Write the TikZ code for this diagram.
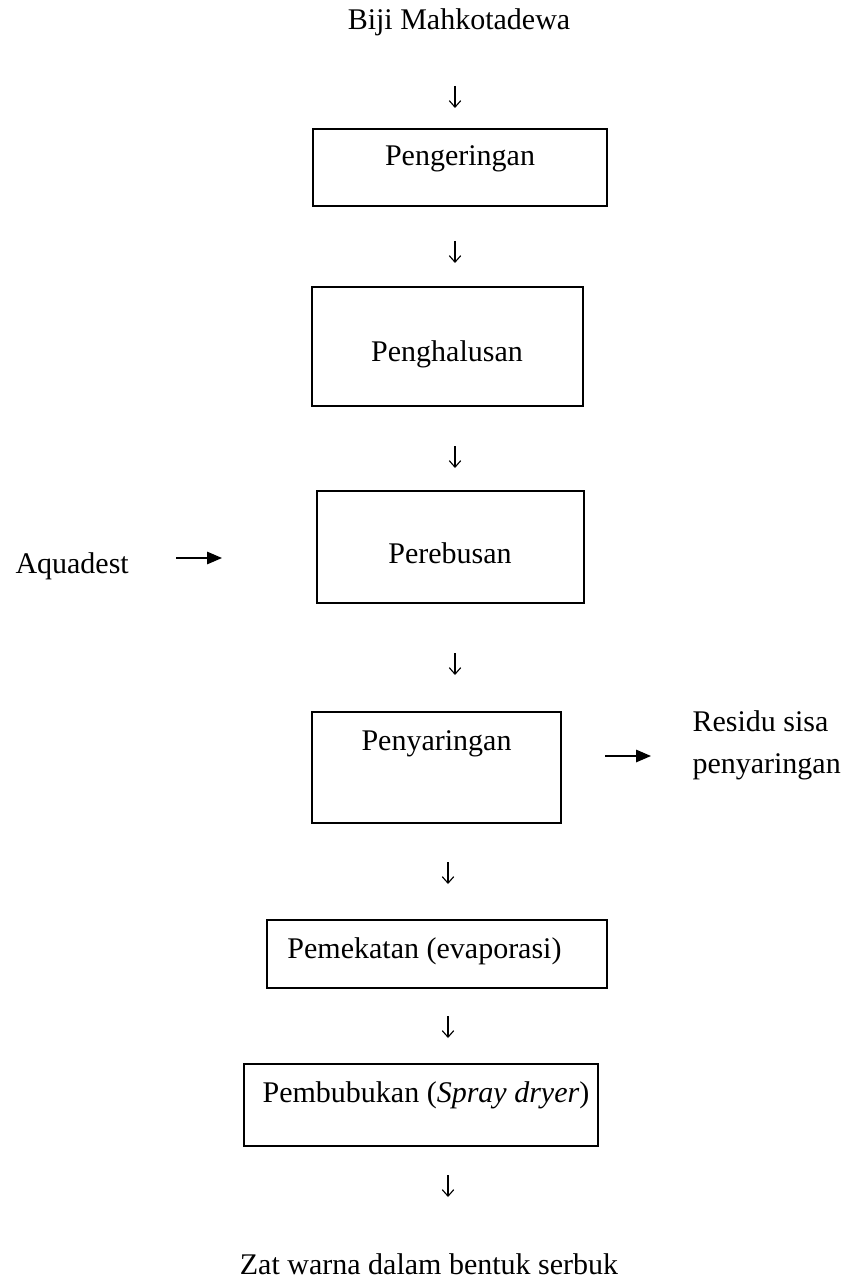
\documentclass[tikz,border=0pt]{standalone}
\usepackage{fontspec}
\setmainfont{Liberation Serif}
\usetikzlibrary{arrows.meta}
\tikzset{
  stepbox/.style  = {draw, line width=0.6pt, inner sep=0pt},
  steptext/.style = {font=\fontsize{12pt}{14pt}\selectfont, inner sep=0pt, anchor=base},
  sidetext/.style = {steptext, anchor=base west},
  downarr/.style  = {-{Straight Barb[length=2.6pt,width=4.6pt]}, line width=0.45pt},
  sidearr/.style  = {-{Triangle[length=6pt,width=5pt]}, line width=0.6pt}
}

\begin{document}
\begin{tikzpicture}[x=0.4pt, y=-0.4pt]
  \useasboundingbox (0,0) rectangle (846,1278);
  % Start and end material
  \node[steptext] (t0) at (459,30)   {Biji Mahkotadewa};
  \node[steptext] (t7) at (429,1274) {Zat warna dalam bentuk serbuk};
  % Process boxes
  \node[stepbox, minimum width=117.6pt, minimum height=30.8pt] (b1) at (460,167.5) {};
  \node[steptext] (t1) at (460,166) {Pengeringan};
  \node[stepbox, minimum width=108.4pt, minimum height=47.6pt] (b2) at (447.5,346.5) {};
  \node[steptext] (t2) at (447,361) {Penghalusan};
  \node[stepbox, minimum width=106.8pt, minimum height=44.8pt] (b3) at (450.5,547) {};
  \node[steptext] (t3) at (450,563) {Perebusan};
  \node[stepbox, minimum width=99.6pt, minimum height=44.4pt] (b4) at (436.5,767.5) {};
  \node[steptext] (t4) at (436.5,750) {Penyaringan};
  \node[stepbox, minimum width=136pt, minimum height=27.2pt] (b5) at (437,954) {};
  \node[steptext] (t5) at (424.5,958) {Pemekatan (evaporasi)};
  \node[stepbox, minimum width=141.6pt, minimum height=32.8pt] (b6) at (421,1105) {};
  \node[steptext] (t6) at (426,1102) {Pembubukan (\textit{Spray dryer})};
  % Side inputs and outputs
  \node[sidetext] (aqua)   at (15,573)  {Aquadest};
  \node[sidetext] (resid1) at (692,731) {Residu sisa};
  \node[sidetext] (resid2) at (692,773) {penyaringan};
  % Down arrows between the steps
  \foreach \i/\x/\y in {0/455/97, 1/455/252, 2/455/457, 3/455/664,
                        4/448/873, 5/448/1027, 6/448/1186} {
    \coordinate (d\i-top) at (\x,\y-11);
    \coordinate (d\i-bot) at (\x,\y+11);
    \draw[downarr] (d\i-top) -- (d\i-bot);
  }
  % Side arrows
  \coordinate (aq-s) at (176,558);
  \coordinate (aq-e) at (222,558);
  \draw[sidearr] (aq-s) -- (aq-e);
  \coordinate (res-s) at (605,756);
  \coordinate (res-e) at (651,756);
  \draw[sidearr] (res-s) -- (res-e);
\end{tikzpicture}
\end{document}
